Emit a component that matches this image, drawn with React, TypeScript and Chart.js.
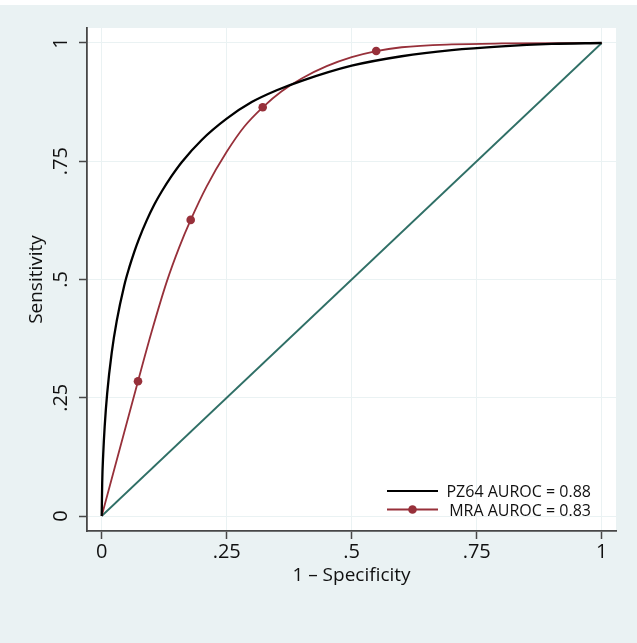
import React, { useEffect, useRef } from "react";
import { Chart, registerables } from "chart.js";

Chart.register(...registerables);

// ---- Data ----
const pz64X = [0, 0.001, 0.003, 0.006, 0.011, 0.02, 0.03, 0.045, 0.055, 0.065, 0.075, 0.09, 0.105, 0.12, 0.14, 0.16, 0.2, 0.25, 0.3, 0.35, 0.4, 0.5, 0.6, 0.7, 0.8, 0.9, 1];
const pz64Y = [0, 0.07, 0.13, 0.19, 0.26, 0.345, 0.412, 0.487, 0.525, 0.558, 0.587, 0.625, 0.658, 0.686, 0.719, 0.748, 0.795, 0.84, 0.875, 0.9, 0.92, 0.952, 0.972, 0.985, 0.993, 0.998, 1];

const mraCurveX = [0, 0.0726, 0.1, 0.13, 0.155, 0.178, 0.21, 0.25, 0.285, 0.322, 0.36, 0.4, 0.45, 0.5, 0.549, 0.6, 0.7, 0.8, 1];
const mraCurveY = [0, 0.285, 0.39, 0.495, 0.568, 0.626, 0.697, 0.77, 0.823, 0.864, 0.898, 0.925, 0.951, 0.97, 0.983, 0.991, 0.997, 0.999, 1];

const mraPointX = [0.0726, 0.178, 0.322, 0.549];
const mraPointY = [0.285, 0.626, 0.864, 0.983];

const refX = [0, 1];
const refY = [0, 1];

const xTicks = [0, 0.25, 0.5, 0.75, 1];
const xTickLabels = ["0", ".25", ".5", ".75", "1"];
const yTicks = [0, 0.25, 0.5, 0.75, 1];
const yTickLabels = ["0", ".25", ".5", ".75", "1"];

const xTitle = "1 \u2013 Specificity";
const yTitle = "Sensitivity";
const legendLabels = ["PZ64 AUROC = 0.88", "MRA AUROC = 0.83"];

// ---- Styles ----
const BG = "#EAF2F3";
const GRID = "#EAF2F3";
const AXIS = "#474747";
const TEXT = "#111111";
const BLACK = "#000000";
const RED = "#97303A";
const TEAL = "#2F6F66";
const FONT = '"Open Sans", sans-serif';
const TICK_SIZE = 20;
const TITLE_SIZE = 19;
const LEGEND_SIZE = 16;

const toXY = (xs: number[], ys: number[]) => xs.map((x, i) => ({ x, y: ys[i] }));

const stataPlugin = {
  id: "stataDecor",
  beforeDraw(chart: any) {
    const { ctx, width, height, chartArea } = chart;
    ctx.save();
    ctx.fillStyle = "#ffffff";
    ctx.fillRect(0, 0, width, height);
    ctx.fillStyle = BG;
    ctx.fillRect(0, 5, width, height - 5);
    ctx.fillStyle = "#ffffff";
    ctx.fillRect(chartArea.left, chartArea.top, chartArea.right - chartArea.left, chartArea.bottom - chartArea.top);
    ctx.restore();
  },
  afterDraw(chart: any) {
    const { ctx, chartArea } = chart;
    const xs = chart.scales.x;
    const ys = chart.scales.y;
    ctx.save();
    ctx.fillStyle = TEXT;
    ctx.textBaseline = "alphabetic";

    // x tick labels
    ctx.font = `${TICK_SIZE}px ${FONT}`;
    ctx.textAlign = "center";
    xTicks.forEach((v, i) => {
      ctx.fillText(xTickLabels[i], xs.getPixelForValue(v), 558);
    });

    // y tick labels (rotated)
    yTicks.forEach((v, i) => {
      const py = ys.getPixelForValue(v);
      ctx.save();
      ctx.translate(67, py);
      ctx.rotate(-Math.PI / 2);
      ctx.textAlign = "center";
      ctx.fillText(yTickLabels[i], 0, 0);
      ctx.restore();
    });

    // axis titles
    ctx.font = `${TITLE_SIZE}px ${FONT}`;
    ctx.textAlign = "center";
    ctx.fillText(xTitle, (chartArea.left + chartArea.right) / 2, 581);
    ctx.save();
    ctx.translate(42, (chartArea.top + chartArea.bottom) / 2);
    ctx.rotate(-Math.PI / 2);
    ctx.fillText(yTitle, 0, 0);
    ctx.restore();

    // legend
    const lx0 = 387;
    const lx1 = 438;
    const rows = [491, 509.5];
    ctx.strokeStyle = BLACK;
    ctx.lineWidth = 2.2;
    ctx.beginPath();
    ctx.moveTo(lx0, rows[0]);
    ctx.lineTo(lx1, rows[0]);
    ctx.stroke();
    ctx.strokeStyle = RED;
    ctx.lineWidth = 1.8;
    ctx.beginPath();
    ctx.moveTo(lx0, rows[1]);
    ctx.lineTo(lx1, rows[1]);
    ctx.stroke();
    ctx.fillStyle = RED;
    ctx.beginPath();
    ctx.arc((lx0 + lx1) / 2, rows[1], 4.3, 0, Math.PI * 2);
    ctx.fill();

    ctx.fillStyle = TEXT;
    ctx.font = `${LEGEND_SIZE}px ${FONT}`;
    ctx.textAlign = "right";
    legendLabels.forEach((t, i) => {
      ctx.fillText(t, 591, rows[i] + 6);
    });
    ctx.restore();
  },
};

export default function App() {
  const ref = useRef<HTMLCanvasElement | null>(null);

  useEffect(() => {
    document.body.style.margin = "0";
    document.body.style.overflow = "hidden";
    const canvas = ref.current;
    if (!canvas) return;

    const chart = new Chart(canvas, {
      type: "line",
      data: {
        datasets: [
          {
            label: legendLabels[0],
            data: toXY(pz64X, pz64Y),
            borderColor: BLACK,
            borderWidth: 2.3,
            pointRadius: 0,
            cubicInterpolationMode: "monotone",
            fill: false,
          },
          {
            label: "MRA points",
            data: toXY(mraPointX, mraPointY),
            showLine: false,
            pointRadius: 4.3,
            pointBackgroundColor: RED,
            pointBorderWidth: 0,
            borderColor: RED,
          },
          {
            label: legendLabels[1],
            data: toXY(mraCurveX, mraCurveY),
            borderColor: RED,
            borderWidth: 1.8,
            pointRadius: 0,
            cubicInterpolationMode: "monotone",
            fill: false,
          },
          {
            label: "Reference",
            data: toXY(refX, refY),
            borderColor: TEAL,
            borderWidth: 1.8,
            pointRadius: 0,
            fill: false,
          },
        ],
      },
      options: {
        animation: false,
        responsive: false,
        devicePixelRatio: 1,
        layout: { padding: { top: 28, right: 21, left: 0, bottom: 0 } },
        plugins: {
          legend: { display: false },
          tooltip: { enabled: false },
        },
        scales: {
          x: {
            type: "linear",
            min: -0.0294,
            max: 1.0286,
            afterBuildTicks: (scale: any) => {
              scale.ticks = xTicks.map((v) => ({ value: v }));
            },
            afterFit: (scale: any) => {
              scale.height = 112;
            },
            ticks: { display: false },
            grid: {
              color: GRID,
              lineWidth: 1,
              drawTicks: true,
              tickLength: 8,
              tickColor: AXIS,
              tickWidth: 1.5,
            },
            border: { display: true, color: AXIS, width: 1.8 },
            title: { display: false },
          },
          y: {
            type: "linear",
            min: -0.0317,
            max: 1.0317,
            afterBuildTicks: (scale: any) => {
              scale.ticks = yTicks.map((v) => ({ value: v }));
            },
            afterFit: (scale: any) => {
              scale.width = 87;
            },
            ticks: { display: false },
            grid: {
              color: GRID,
              lineWidth: 1,
              drawTicks: true,
              tickLength: 8,
              tickColor: AXIS,
              tickWidth: 1.5,
            },
            border: { display: true, color: AXIS, width: 1.8 },
            title: { display: false },
          },
        },
      },
      plugins: [stataPlugin],
    });

    return () => chart.destroy();
  }, []);

  return (
    <div style={{ width: 637, height: 643 }}>
      <canvas ref={ref} width={637} height={643} style={{ display: "block" }} />
    </div>
  );
}
